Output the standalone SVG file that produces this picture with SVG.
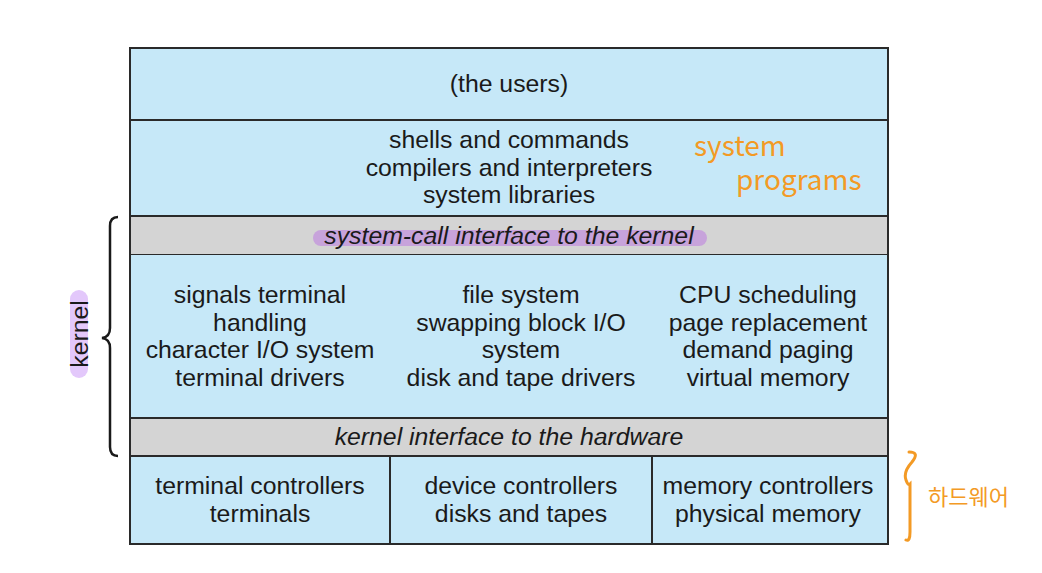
<svg xmlns="http://www.w3.org/2000/svg" width="1042" height="573" viewBox="0 0 1042 573">
<style>
.blue{fill:#c6e8f8;stroke:#2a2a2a;stroke-width:2}
.gray{fill:#d4d4d4;stroke:#2a2a2a;stroke-width:2}
.t{font-family:"Liberation Sans",Arial,sans-serif;font-size:24.8px;fill:#1a1a1a;text-anchor:middle}
.i{font-style:italic}
.hand{font-family:"Noto Sans CJK KR","Noto Sans",sans-serif;fill:#f39a25;font-size:28px}
.hl{fill:#c7a3db}
</style>
<rect width="1042" height="573" fill="#ffffff"/>
<g id="users">
<rect class="blue" x="130" y="48" width="758" height="72"/>
<text class="t" x="509" y="92">(the users)</text>
</g>
<g id="system-programs">
<rect class="blue" x="130" y="120" width="758" height="96"/>
<text class="t" x="509" y="148">shells and commands</text>
<text class="t" x="509" y="176">compilers and interpreters</text>
<text class="t" x="509" y="203">system libraries</text>
</g>
<g id="syscall">
<rect class="gray" x="130" y="216" width="758" height="39"/>
<rect class="hl" x="313" y="230" width="394" height="16" rx="8"/>
<text class="t i" x="509" y="244">system-call interface to the kernel</text>
</g>
<g id="kernel-core">
<rect class="blue" x="130" y="255" width="758" height="163" style="stroke:none"/>
<line x1="130" y1="255" x2="130" y2="418" stroke="#2a2a2a" stroke-width="2"/>
<line x1="888" y1="255" x2="888" y2="418" stroke="#2a2a2a" stroke-width="2"/>
<text class="t" x="260" y="303">signals terminal</text>
<text class="t" x="260" y="331">handling</text>
<text class="t" x="260" y="358">character I/O system</text>
<text class="t" x="260" y="386">terminal drivers</text>
<text class="t" x="521" y="303">file system</text>
<text class="t" x="521" y="331">swapping block I/O</text>
<text class="t" x="521" y="358">system</text>
<text class="t" x="521" y="386">disk and tape drivers</text>
<text class="t" x="768" y="303">CPU scheduling</text>
<text class="t" x="768" y="331">page replacement</text>
<text class="t" x="768" y="358">demand paging</text>
<text class="t" x="768" y="386">virtual memory</text>
</g>
<g id="hw-interface">
<rect class="gray" x="130" y="418" width="758" height="38"/>
<text class="t i" x="509" y="445">kernel interface to the hardware</text>
</g>
<g id="terminal-controllers">
<rect class="blue" x="130" y="456" width="260" height="88"/>
<text class="t" x="260" y="494">terminal controllers</text>
<text class="t" x="260" y="522">terminals</text>
</g>
<g id="device-controllers">
<rect class="blue" x="390" y="456" width="262" height="88"/>
<text class="t" x="521" y="494">device controllers</text>
<text class="t" x="521" y="522">disks and tapes</text>
</g>
<g id="memory-controllers">
<rect class="blue" x="652" y="456" width="236" height="88"/>
<text class="t" x="768" y="494">memory controllers</text>
<text class="t" x="768" y="522">physical memory</text>
</g>
<g id="connectors">
<path d="M118,217 Q110,217 110,226 L110,328 Q110,337 102,338 Q110,339 110,348 L110,447 Q110,456 118,456" fill="none" stroke="#1a1a1a" stroke-width="2.5"/>
<path d="M909,452 Q920,452 912,462 Q903,472 906,480 Q908,486 910,484 L910,532 Q910,542 906,540" fill="none" stroke="#f39a25" stroke-width="3" stroke-linecap="round"/>
</g>
<g id="kernel-label">
<rect x="70" y="290" width="18" height="88" rx="9" fill="#e3c8fb"/>
<text class="t" transform="translate(88,334) rotate(-90)">kernel</text>
</g>
<g id="annotations">
<text class="hand" x="694" y="156">system</text>
<text class="hand" x="736" y="190">programs</text>
<text class="hand" x="928" y="505" style="font-size:22px">하드웨어</text>
</g>
</svg>
